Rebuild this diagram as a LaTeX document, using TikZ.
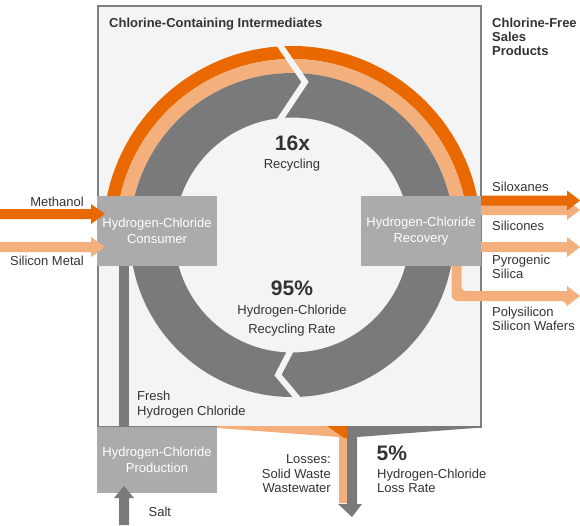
\documentclass[tikz,border=0pt]{standalone}
\usepackage{fontspec}
\setmainfont{Liberation Sans}
\definecolor{org}{HTML}{E96800}
\definecolor{lorg}{HTML}{F4B07C}
\definecolor{rgray}{HTML}{7A7A7A}
\definecolor{bgray}{HTML}{ABABAB}
\definecolor{bgc}{HTML}{F4F4F4}
\definecolor{framec}{HTML}{7F7F7F}
\definecolor{txt}{HTML}{333333}
\begin{document}
\begin{tikzpicture}[x=1pt,y=-1pt,
  lbl/.style={inner sep=0pt, text=txt, font=\fontsize{13}{15}\selectfont},
  lblw/.style={lbl, anchor=base west},
  lble/.style={lbl, anchor=base east},
  lblc/.style={lbl, anchor=base},
  bold/.style={inner sep=0pt, text=txt, font=\fontsize{13}{15}\selectfont\bfseries, anchor=base west},
  big/.style={inner sep=0pt, text=txt, font=\fontsize{21}{24}\selectfont\bfseries, anchor=base},
  boxn/.style={fill=bgray, text=white, inner sep=0pt, minimum width=120pt, minimum height=70pt, align=center, font=\fontsize{13}{15.5}\selectfont},
]
\useasboundingbox (0,0) rectangle (580,525);
\fill[white] (0,0) rectangle (580,525);
% main frame
\draw[fill=bgc, draw=framec, line width=2pt] (97.5,5.5) rectangle (480.5,426.5);
% rings
\coordinate (c) at (292,235);
\begin{scope}
  \clip (0,0) rectangle (580,235);
  \fill[org, even odd rule] (c) circle (189pt) (c) circle (176pt);
  \fill[lorg, even odd rule] (c) circle (176pt) (c) circle (162pt);
\end{scope}
\fill[rgray, even odd rule] (c) circle (162pt) (c) circle (117.5pt);
% zigzag gaps
\draw[bgc, line width=6pt, miter limit=10] (277,41) -- (305,82) -- (279,121);
\draw[bgc, line width=6pt, miter limit=10] (292,348) -- (278,375) -- (299,400);
% fresh HCl bar
\fill[rgray] (119,266) rectangle (129,427);
% boxes
\node[boxn] (cons) at (157,231) {Hydrogen-Chloride\\Consumer};
\node[boxn] (rec) at (421,231) {Hydrogen-Chloride\\Recovery};
\node[boxn, minimum height=66pt] (prod) at (157,460) {Hydrogen-Chloride\\Production};
% input arrows
\fill[org] (0,209) -- (91,209) -- (91,204) -- (105,214) -- (91,224) -- (91,219) -- (0,219) -- cycle;
\fill[lorg] (0,242) -- (91,242) -- (91,237) -- (105,247) -- (91,257) -- (91,252) -- (0,252) -- cycle;
% output arrows
\fill[lorg] (481,205) -- (567,205) -- (567,200) -- (580,210) -- (567,220) -- (567,215) -- (481,215) -- cycle;
\fill[org] (481,195.5) -- (567,195.5) -- (567,190.5) -- (580,200.5) -- (567,210.5) -- (567,205.5) -- (481,205.5) -- cycle;
\fill[lorg] (481,242) -- (567,242) -- (567,237) -- (580,247) -- (567,257) -- (567,252) -- (481,252) -- cycle;
\fill[lorg, rounded corners=6pt] (451.5,266) -- (451.5,301) -- (567,301) [sharp corners] -- (567,306) -- (580,296) -- (567,286) -- (567,291) [rounded corners=4pt] -- (461.5,291) [sharp corners] -- (461.5,266) -- cycle;
% salt arrow
\fill[rgray] (119,525) -- (119,498) -- (114,498) -- (124,486) -- (134,498) -- (129,498) -- (129,525) -- cycle;
% losses
\fill[lorg] (217,426) -- (347,426) -- (347,503) -- (339,503) -- (339,437) -- (217,428) -- cycle;
\fill[org] (327,426) -- (347,426) -- (347,438) -- (344,438) -- cycle;
\fill[rgray] (347,426) -- (481.5,426) -- (481.5,427.5) -- (357,437) -- (357,504) -- (362,504) -- (352,517) -- (338,504) -- (347,504) -- cycle;
% texts
\node[bold] (t1) at (109,27.5) {Chlorine-Containing Intermediates};
\node[bold] (t2a) at (492,27.5) {Chlorine-Free};
\node[bold] (t2b) at (492,41.5) {Sales};
\node[bold] (t2c) at (492,55.5) {Products};
\node[big] (n16) at (292.5,150) {16x};
\node[lblc] (rcy) at (292,168) {Recycling};
\node[big] (n95) at (292,295) {95\%};
\node[lblc] (rr1) at (292,314.5) {Hydrogen-Chloride};
\node[lblc] (rr2) at (292,333.5) {Recycling Rate};
\node[lble] (meth) at (84,206.5) {Methanol};
\node[lble] (sim) at (84,265) {Silicon Metal};
\node[lblw] (o1) at (492,191.5) {Siloxanes};
\node[lblw] (o2) at (492,230) {Silicones};
\node[lblw] (o3a) at (492,264) {Pyrogenic};
\node[lblw] (o3b) at (492,278.3) {Silica};
\node[lblw] (o4a) at (492,316) {Polysilicon};
\node[lblw] (o4b) at (492,330) {Silicon Wafers};
\node[lblw] (fr1) at (137,400) {Fresh};
\node[lblw] (fr2) at (137,415) {Hydrogen Chloride};
\node[lble] (ls1) at (331,463.5) {Losses:};
\node[lble] (ls2) at (331,478.3) {Solid Waste};
\node[lble] (ls3) at (331,492.7) {Wastewater};
\node[big, anchor=base west] (n5) at (376.5,460) {5\%};
\node[lblw] (lr1) at (377,478.3) {Hydrogen-Chloride};
\node[lblw] (lr2) at (377,492.7) {Loss Rate};
\node[lblw] (salt) at (148.5,516.7) {Salt};
\end{tikzpicture}
\end{document}
